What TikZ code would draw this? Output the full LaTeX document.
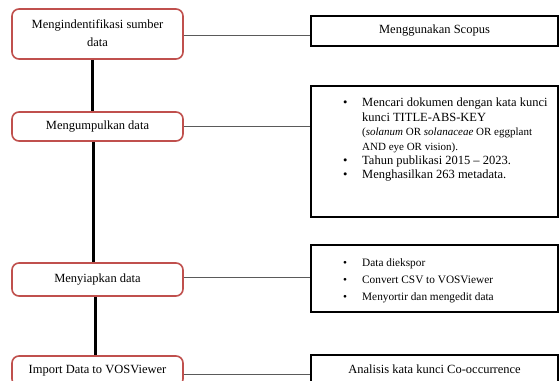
\documentclass[tikz,border=0pt]{standalone}
\usepackage{fontspec}
\setmainfont{Liberation Serif}
\definecolor{redc}{HTML}{C0504D}
\definecolor{linkc}{HTML}{5A5A5A}
\newcommand{\bul}[1]{\makebox[19pt][l]{\textbullet}#1}
\newcommand{\cont}[1]{\hspace*{19pt}#1}
\begin{document}
\begin{tikzpicture}[x=1pt,y=-1pt,
  lbox/.style={draw=redc, line width=1.6pt, rounded corners=7pt, fill=white, align=center,
    font=\fontsize{12.5}{15}\selectfont, inner sep=0pt, minimum width=171pt},
  rbox/.style={draw=black, line width=1.8pt, fill=white, inner sep=0pt, minimum width=247pt},
  link/.style={draw=linkc, line width=1pt},
  spine/.style={draw=black, line width=3pt},
  ltxt/.style={inner sep=0pt, anchor=north west, align=left}]
\clip (0,0) rectangle (559,380);
\fill[white] (0,0) rectangle (559,380);
% left boxes
\node[lbox, minimum height=50pt] (l1) at (97.5,34)
  {\raisebox{2.5pt}{\renewcommand{\arraystretch}{1.2}\begin{tabular}{@{}c@{}}Mengindentifikasi sumber\\data\end{tabular}}};
\node[lbox, minimum height=29pt] (l2) at (97.5,126.5) {Mengumpulkan data};
\node[lbox, minimum height=33pt] (l3) at (97.5,279.5) {Menyiapkan data};
\node[lbox, minimum height=30pt] (l4) at (97.5,371) {Import Data to VOSViewer};
% right boxes
\node[rbox, minimum height=30pt, font=\fontsize{12.5}{15}\selectfont] (r1) at (434.5,31) {Menggunakan Scopus};
\node[rbox, minimum height=131pt] (r2) at (434.5,151.5) {};
\node[rbox, minimum height=67pt] (r3) at (434.5,278.5) {};
\node[rbox, minimum height=28pt, font=\fontsize{12.5}{15}\selectfont] (r4) at (434.5,369) {Analisis kata kunci Co-occurrence};
% list texts
\node[ltxt, font=\fontsize{12.5}{14.4}\selectfont] (t2) at (343,98)
  {\bul{Mencari dokumen dengan kata kunci}\\
   \cont{kunci TITLE-ABS-KEY}\\
   \cont{{\fontsize{11}{14.4}\selectfont(\textit{solanum} OR \textit{solanaceae} OR eggplant}}\\
   \cont{{\fontsize{11}{14.4}\selectfont AND eye OR vision).}}\\
   \bul{Tahun publikasi 2015 -- 2023.}\\
   \bul{Menghasilkan 263 metadata.}};
\node[ltxt, font=\fontsize{11.3}{17}\selectfont] (t3) at (343,258)
  {\bul{Data diekspor}\\
   \bul{Convert CSV to VOSViewer}\\
   \bul{Menyortir dan mengedit data}};
% spines
\draw[spine] ([xshift=-5.5pt]l1.south) -- ([xshift=-5.5pt]l1.south |- l2.north);
\draw[spine] ([xshift=-4.5pt]l2.south) -- ([xshift=-4.5pt]l2.south |- l3.north);
\draw[spine] ([xshift=-2.5pt]l3.south) -- ([xshift=-2.5pt]l3.south |- l4.north);
% links
\draw[link] ([yshift=-1pt]l1.east) -- ([yshift=-1pt]l1.east -| r1.west);
\draw[link] (l2.east) -- (l2.east -| r2.west);
\draw[link] ([yshift=2pt]l3.east) -- ([yshift=2pt]l3.east -| r3.west);
\draw[link] ([yshift=-3pt]l4.east) -- ([yshift=-3pt]l4.east -| r4.west);
\end{tikzpicture}
\end{document}
